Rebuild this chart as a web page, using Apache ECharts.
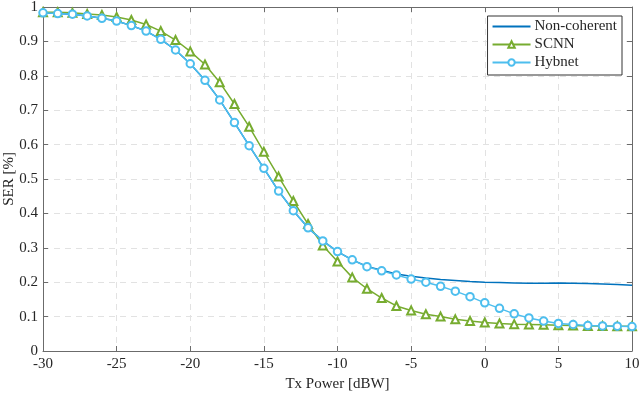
<!DOCTYPE html>
<html>
<head>
<meta charset="utf-8">
<script src="https://cdn.jsdelivr.net/npm/echarts@6/dist/echarts.min.js"></script>
<style>
  html, body { margin: 0; padding: 0; background: #fff; }
  #chart { width: 640px; height: 396px; }
</style>
</head>
<body>
<div id="chart"></div>
<script>
const txPower = [-30, -29, -28, -27, -26, -25, -24, -23, -22, -21, -20, -19, -18, -17, -16, -15, -14, -13, -12, -11, -10,
  -9, -8, -7, -6, -5, -4, -3, -2, -1, 0, 1, 2, 3, 4, 5, 6, 7, 8, 9, 10]

const nonCoherent = [0.983, 0.981, 0.979, 0.974, 0.967, 0.959, 0.946, 0.930, 0.906, 0.875, 0.835, 0.787, 0.730, 0.664,
  0.597, 0.531, 0.465, 0.408, 0.358, 0.320, 0.289, 0.265, 0.246, 0.235, 0.224, 0.217, 0.212, 0.208, 0.205, 0.202,
  0.200, 0.199, 0.198, 0.197, 0.197, 0.198, 0.197, 0.196, 0.195, 0.193, 0.191]

const scnn = [0.985, 0.985, 0.983, 0.980, 0.977, 0.971, 0.962, 0.949, 0.930, 0.904, 0.871, 0.833, 0.781, 0.718,
  0.652, 0.579, 0.507, 0.436, 0.369, 0.307, 0.260, 0.214, 0.181, 0.154, 0.131, 0.118, 0.107, 0.100, 0.092, 0.087,
  0.083, 0.080, 0.078, 0.077, 0.076, 0.075, 0.074, 0.073, 0.073, 0.072, 0.072]

const hybnet = [0.983, 0.981, 0.979, 0.974, 0.967, 0.959, 0.946, 0.930, 0.906, 0.875, 0.835, 0.787, 0.730, 0.664,
  0.597, 0.531, 0.465, 0.408, 0.358, 0.320, 0.289, 0.265, 0.245, 0.233, 0.221, 0.209, 0.200, 0.188, 0.174, 0.158,
  0.140, 0.124, 0.108, 0.096, 0.087, 0.080, 0.077, 0.074, 0.073, 0.072, 0.071]

const serif = 'Liberation Serif'
const axisColor = '#6b6b6b'
const textColor = '#262626'

const pairs = ys => txPower.map((x, i) => [x, ys[i]])

const chart = echarts.init(document.getElementById('chart'))

const baseX = {
  type: 'value',
  min: -30,
  max: 10,
  interval: 5,
  axisLine: { show: true, onZero: false, lineStyle: { color: axisColor, width: 1 } },
  axisTick: { show: true, inside: true, length: 5, lineStyle: { color: axisColor } }
}
const baseY = {
  type: 'value',
  min: 0,
  max: 1,
  interval: 0.1,
  axisLine: { show: true, onZero: false, lineStyle: { color: axisColor, width: 1 } },
  axisTick: { show: true, inside: true, length: 5, lineStyle: { color: axisColor } }
}

const option = {
  backgroundColor: '#fff',
  animation: false,
  grid: { left: 43, right: 8, top: 7, bottom: 45, containLabel: false, outerBoundsMode: 'none' },
  legend: {
    orient: 'vertical',
    right: 18,
    top: 16,
    padding: [3, 5, 5, 4],
    itemWidth: 38,
    itemHeight: 8,
    itemGap: 3,
    backgroundColor: '#fff',
    borderColor: '#333',
    borderWidth: 1,
    borderRadius: 0,
    textStyle: { fontFamily: serif, fontSize: 15, color: textColor, padding: [0, 0, 0, -1] },
    data: [
      { name: 'Non-coherent', itemStyle: { opacity: 0 } },
      'SCNN',
      'Hybnet'
    ]
  },
  xAxis: [
    Object.assign({}, baseX, {
      position: 'bottom',
      name: 'Tx Power [dBW]',
      nameLocation: 'middle',
      nameGap: 26,
      nameMoveOverlap: false,
      nameTextStyle: { fontFamily: serif, fontSize: 15, color: textColor },
      axisLabel: { fontFamily: serif, fontSize: 15, color: textColor, margin: 6 },
      splitLine: { show: true, lineStyle: { color: '#e2e2e2', type: [6, 5], width: 1 } }
    }),
    Object.assign({}, baseX, {
      position: 'top',
      axisLabel: { show: false },
      splitLine: { show: false }
    })
  ],
  yAxis: [
    Object.assign({}, baseY, {
      position: 'left',
      name: 'SER [%]',
      nameLocation: 'middle',
      nameGap: 26,
      nameMoveOverlap: false,
      nameTextStyle: { fontFamily: serif, fontSize: 15, color: textColor },
      axisLabel: {
        fontFamily: serif, fontSize: 15, color: textColor, margin: 5,
        formatter: v => (v === 0 || v === 1) ? String(v) : v.toFixed(1)
      },
      splitLine: { show: true, lineStyle: { color: '#e2e2e2', type: [6, 5], width: 1 } }
    }),
    Object.assign({}, baseY, {
      position: 'right',
      axisLabel: { show: false },
      splitLine: { show: false }
    })
  ],
  series: [
    {
      name: 'Non-coherent',
      type: 'line',
      data: pairs(nonCoherent),
      showSymbol: false,
      symbol: 'none',
      lineStyle: { color: '#0072BD', width: 1.5 },
      itemStyle: { color: '#0072BD' },
      z: 2
    },
    {
      name: 'SCNN',
      type: 'line',
      data: pairs(scnn),
      symbol: 'emptyTriangle',
      symbolSize: 8,
      lineStyle: { color: '#77AC30', width: 1.5 },
      itemStyle: { color: '#77AC30', borderWidth: 1.5 },
      z: 3
    },
    {
      name: 'Hybnet',
      type: 'line',
      data: pairs(hybnet),
      symbol: 'emptyCircle',
      symbolSize: 7.5,
      lineStyle: { color: '#4DBEEE', width: 1.5 },
      itemStyle: { color: '#4DBEEE', borderWidth: 1.5 },
      z: 4
    }
  ]
}

chart.setOption(option)

window.addEventListener('resize', () => {
  if (chart) {
    chart.resize()
  }
})
</script>
</body>
</html>
